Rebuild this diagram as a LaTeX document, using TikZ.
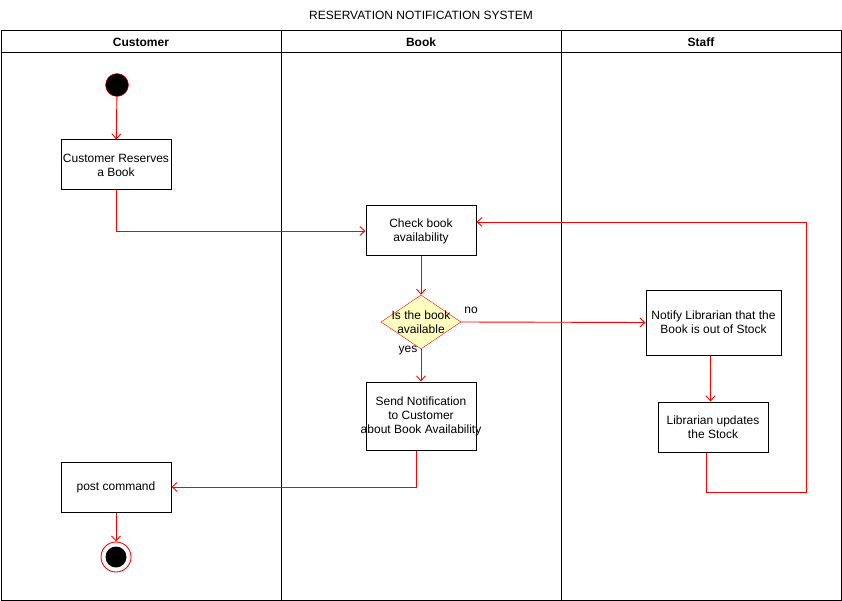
\documentclass[tikz,border=0pt]{standalone}
\usepackage{fontspec}
\setmainfont{Liberation Sans}
\usetikzlibrary{arrows.meta,shapes.geometric}
\definecolor{diafill}{HTML}{FFFFC0}
\begin{document}
\begin{tikzpicture}[x=1pt,y=-1pt,
  font=\fontsize{12}{14}\selectfont,
  actbox/.style={draw=black,line width=1pt,fill=white,minimum width=110pt,minimum height=50pt,align=center,inner sep=0pt},
  conn/.style={draw=red,line width=0.9pt,-{Straight Barb[length=5pt,width=9pt]}},
  lane/.style={draw=black,line width=1pt}]
\useasboundingbox (0,0) rectangle (842,601);
\node (title) at (421,15) {RESERVATION NOTIFICATION SYSTEM};
% pool
\draw[lane] (1,31) rectangle (841,600);
\draw[lane] (1,53) -- (841,53);
\draw[lane] (281,31) -- (281,600);
\draw[lane] (561,31) -- (561,600);
\node[font=\fontsize{12}{14}\selectfont\bfseries] (h1) at (141,42) {Customer};
\node[font=\fontsize{12}{14}\selectfont\bfseries] (h2) at (421,42) {Book};
\node[font=\fontsize{12}{14}\selectfont\bfseries] (h3) at (701,42) {Staff};
% nodes
\node[circle,draw=red,fill=black,minimum size=23pt,inner sep=0pt] (start) at (117,85) {};
\node[actbox] (reserve) at (116,165) {Customer Reserves\\a Book};
\node[actbox] (check) at (421,231) {Check book\\availability};
\node[diamond,draw=red,fill=diafill,minimum width=80pt,minimum height=54pt,aspect=1.48,inner sep=0pt,align=center] (avail) at (421,322) {};
\node[align=center] (availt) at (421,322) {Is the book\\available};
\node[actbox,minimum width=135pt,minimum height=65pt] (notify) at (713.5,322.5) {Notify Librarian that the\\Book is out of Stock};
\node[actbox] (update) at (713,427) {Librarian updates\\the Stock};
\node[actbox,minimum height=68pt] (send) at (421,416) {};
\node[align=center] (sendt) at (421,416) {Send Notification\\to Customer\\about Book Availability};
\node[actbox] (post) at (116,487) {post command};
\node[circle,draw=red,line width=0.9pt,fill=white,minimum size=30pt,inner sep=0pt] (stop) at (116,557) {};
\node[circle,fill=black,minimum size=21pt,inner sep=0pt] (stopin) at (116,557) {};
% connectors
\draw[conn] (start) -- (reserve);
\draw[conn] (reserve.south) |- (check.west);
\draw[conn] (check) -- (avail.north);
\draw[conn] (avail.east) -- (notify.west);
\node (no) at (471,310) {no};
\draw[conn] (avail.south) -- (send.north);
\node (yes) at (408,351) {yes};
\draw[conn] ([xshift=-3pt]notify.south) -- ([xshift=-3pt]notify.south |- update.north);
\coordinate (c1) at (806,492);
\draw[conn] ([xshift=-7pt]update.south) |- (c1) |- ([yshift=9pt]check.east);
\draw[conn] ([xshift=-5pt]send.south) |- (post.east);
\draw[conn] (post) -- (stop);
\end{tikzpicture}
\end{document}
